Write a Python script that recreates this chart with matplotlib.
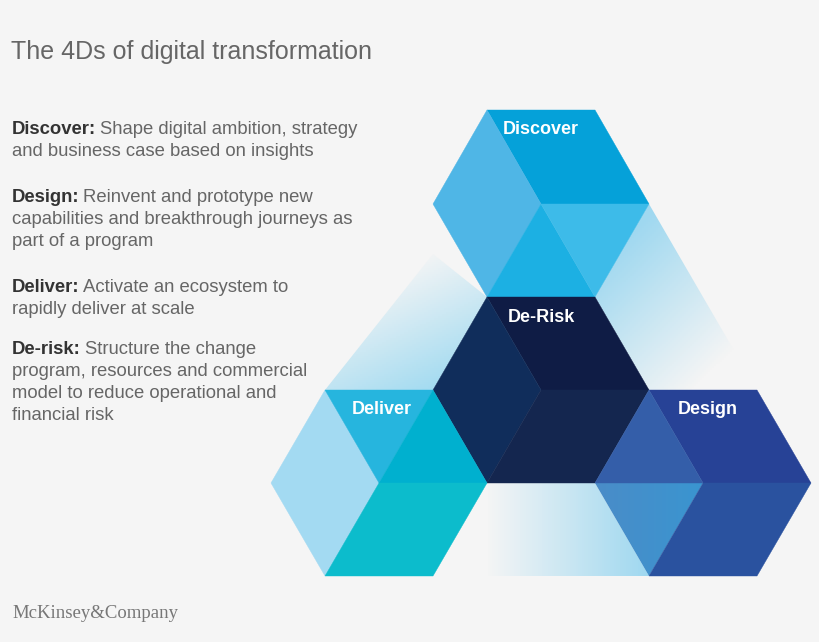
import numpy as np
import matplotlib.pyplot as plt
from matplotlib.patches import Polygon
from matplotlib.colors import LinearSegmentedColormap

# lattice geometry (pixels)
s = 108
h = 93
cx = 541
rows = [110, 204, 297, 390, 483, 576]

title = "The 4Ds of digital transformation"
items = [
    ("Discover:", ["Shape digital ambition, strategy", "and business case based on insights"]),
    ("Design:", ["Reinvent and prototype new", "capabilities and breakthrough journeys as", "part of a program"]),
    ("Deliver:", ["Activate an ecosystem to", "rapidly deliver at scale"]),
    ("De-risk:", ["Structure the change", "program, resources and commercial", "model to reduce operational and", "financial risk"]),
]
item_y = [130, 197, 287, 350]
hex_labels = ["Discover", "De-Risk", "Deliver", "Design"]

fig = plt.figure(figsize=(8.2, 6.42), dpi=100)
fig.patch.set_facecolor("#f5f5f5")
ax = fig.add_axes([0, 0, 1, 1])
ax.set_xlim(0, 820)
ax.set_ylim(642, 0)
ax.axis("off")


def poly(pts, color):
    ax.add_patch(Polygon(pts, closed=True, facecolor=color, edgecolor=color, lw=0.3))


def grad_poly(pts, p0, p1, c0, c1="#f5f5f5"):
    # linear gradient from p0 (c0) to p1 (c1), clipped to polygon
    xs = np.linspace(0, 820, 410)
    ys = np.linspace(0, 642, 321)
    X, Y = np.meshgrid(xs, ys)
    d = np.array(p1) - np.array(p0)
    t = ((X - p0[0]) * d[0] + (Y - p0[1]) * d[1]) / (d @ d)
    t = np.clip(t, 0, 1)
    cmap = LinearSegmentedColormap.from_list("g", [c0, c1])
    im = ax.imshow(t, cmap=cmap, extent=(0, 820, 642, 0), vmin=0, vmax=1, zorder=0)
    p = Polygon(pts, closed=True, facecolor="none", edgecolor="none")
    ax.add_patch(p)
    im.set_clip_path(p)


a = s / 2
# faded connectors
grad_poly([(cx + a + a, rows[1]), (cx + 3 * a + a, rows[3]), (cx + a + a, rows[3]), (cx + a, rows[2])],
          (cx + a, rows[2] - 30), (cx + 3 * a, rows[3] - 10), "#9fd8f0")
grad_poly([(cx - 3 * a - a, rows[3]), (cx - a - a, rows[1] + 50), (cx - a, rows[2]), (cx - a - a, rows[3])],
          (cx - 2 * a, rows[3]), (cx - 3 * a, rows[1] + 70), "#a3dbf1")
grad_poly([(cx - a, rows[4]), (cx + a, rows[4]), (cx + 2 * a, rows[5]), (cx - 2 * a, rows[5])],
          (cx + 2 * a, rows[5]), (cx - a, rows[5]), "#9fd8f0")

# Discover hexagon (center cx, rows[1])
poly([(cx - a, rows[0]), (cx + a, rows[0]), (cx + 2 * a, rows[1]), (cx, rows[1])], "#05a1d9")
poly([(cx - a, rows[0]), (cx, rows[1]), (cx - a, rows[2]), (cx - 2 * a, rows[1])], "#4fb6e6")
poly([(cx, rows[1]), (cx - a, rows[2]), (cx + a, rows[2])], "#1cb0e3")
poly([(cx, rows[1]), (cx + 2 * a, rows[1]), (cx + a, rows[2])], "#3dbbe9")

# De-Risk hexagon (center cx, rows[3])
poly([(cx - a, rows[2]), (cx + a, rows[2]), (cx + 2 * a, rows[3]), (cx, rows[3])], "#0f1c45")
poly([(cx - a, rows[2]), (cx, rows[3]), (cx - a, rows[4]), (cx - 2 * a, rows[3])], "#102d5b")
poly([(cx, rows[3]), (cx + 2 * a, rows[3]), (cx + a, rows[4]), (cx - a, rows[4])], "#14264f")

# Deliver hexagon (center dx, rows[4])
dx = cx - 3 * a
poly([(dx - a, rows[3]), (dx, rows[4]), (dx - a, rows[5]), (dx - 2 * a, rows[4])], "#a3daf2")
poly([(dx - a, rows[3]), (dx + a, rows[3]), (dx, rows[4])], "#26b5de")
poly([(dx + a, rows[3]), (dx + 2 * a, rows[4]), (dx, rows[4])], "#00b0cf")
poly([(dx, rows[4]), (dx + 2 * a, rows[4]), (dx + a, rows[5]), (dx - a, rows[5])], "#0cbccc")

# Design hexagon (center gx, rows[4])
gx = cx + 3 * a
poly([(gx - a, rows[3]), (gx + a, rows[3]), (gx + 2 * a, rows[4]), (gx, rows[4])], "#274296")
poly([(gx - a, rows[3]), (gx, rows[4]), (gx - 2 * a, rows[4])], "#345ea9")
poly([(gx, rows[4]), (gx + 2 * a, rows[4]), (gx + a, rows[5]), (gx - a, rows[5])], "#2a529f")
grad_poly([(gx - 2 * a, rows[4]), (gx, rows[4]), (gx - a, rows[5])],
          (gx - 2 * a, rows[4]), (gx, rows[4]), "#4a8cc8", "#3a95d0")

# hex labels
lab_pos = [(cx, 130), (cx, 318), (dx + 3, 410), (gx + 5, 410)]
for txt, (x, y) in zip(hex_labels, lab_pos):
    ax.text(x, y, txt, color="white", fontsize=13, fontweight="bold",
            ha="center", va="center", family="Liberation Sans")

# left text
ax.text(11, 52, title, fontsize=18, color="#666666", va="center", family="Liberation Sans")
fig.canvas.draw()
r = fig.canvas.get_renderer()
for (bold, lines), y0 in zip(items, item_y):
    for i, line in enumerate(lines):
        y = y0 + i * 22
        if i == 0:
            t = ax.text(12, y, bold, fontsize=13.3, fontweight="bold", color="#333333",
                        va="center", family="Liberation Sans")
            w = t.get_window_extent(r).width
            ax.text(12 + w + 4, y, line, fontsize=13.3, color="#666666", va="center",
                    family="Liberation Sans")
        else:
            ax.text(12, y, line, fontsize=13.3, color="#666666", va="center",
                    family="Liberation Sans")

ax.text(12, 614, "McKinsey&Company", fontsize=13.5, color="#777777", va="center",
        family="Liberation Serif")

fig.savefig("out.png", dpi=100, facecolor=fig.get_facecolor())
